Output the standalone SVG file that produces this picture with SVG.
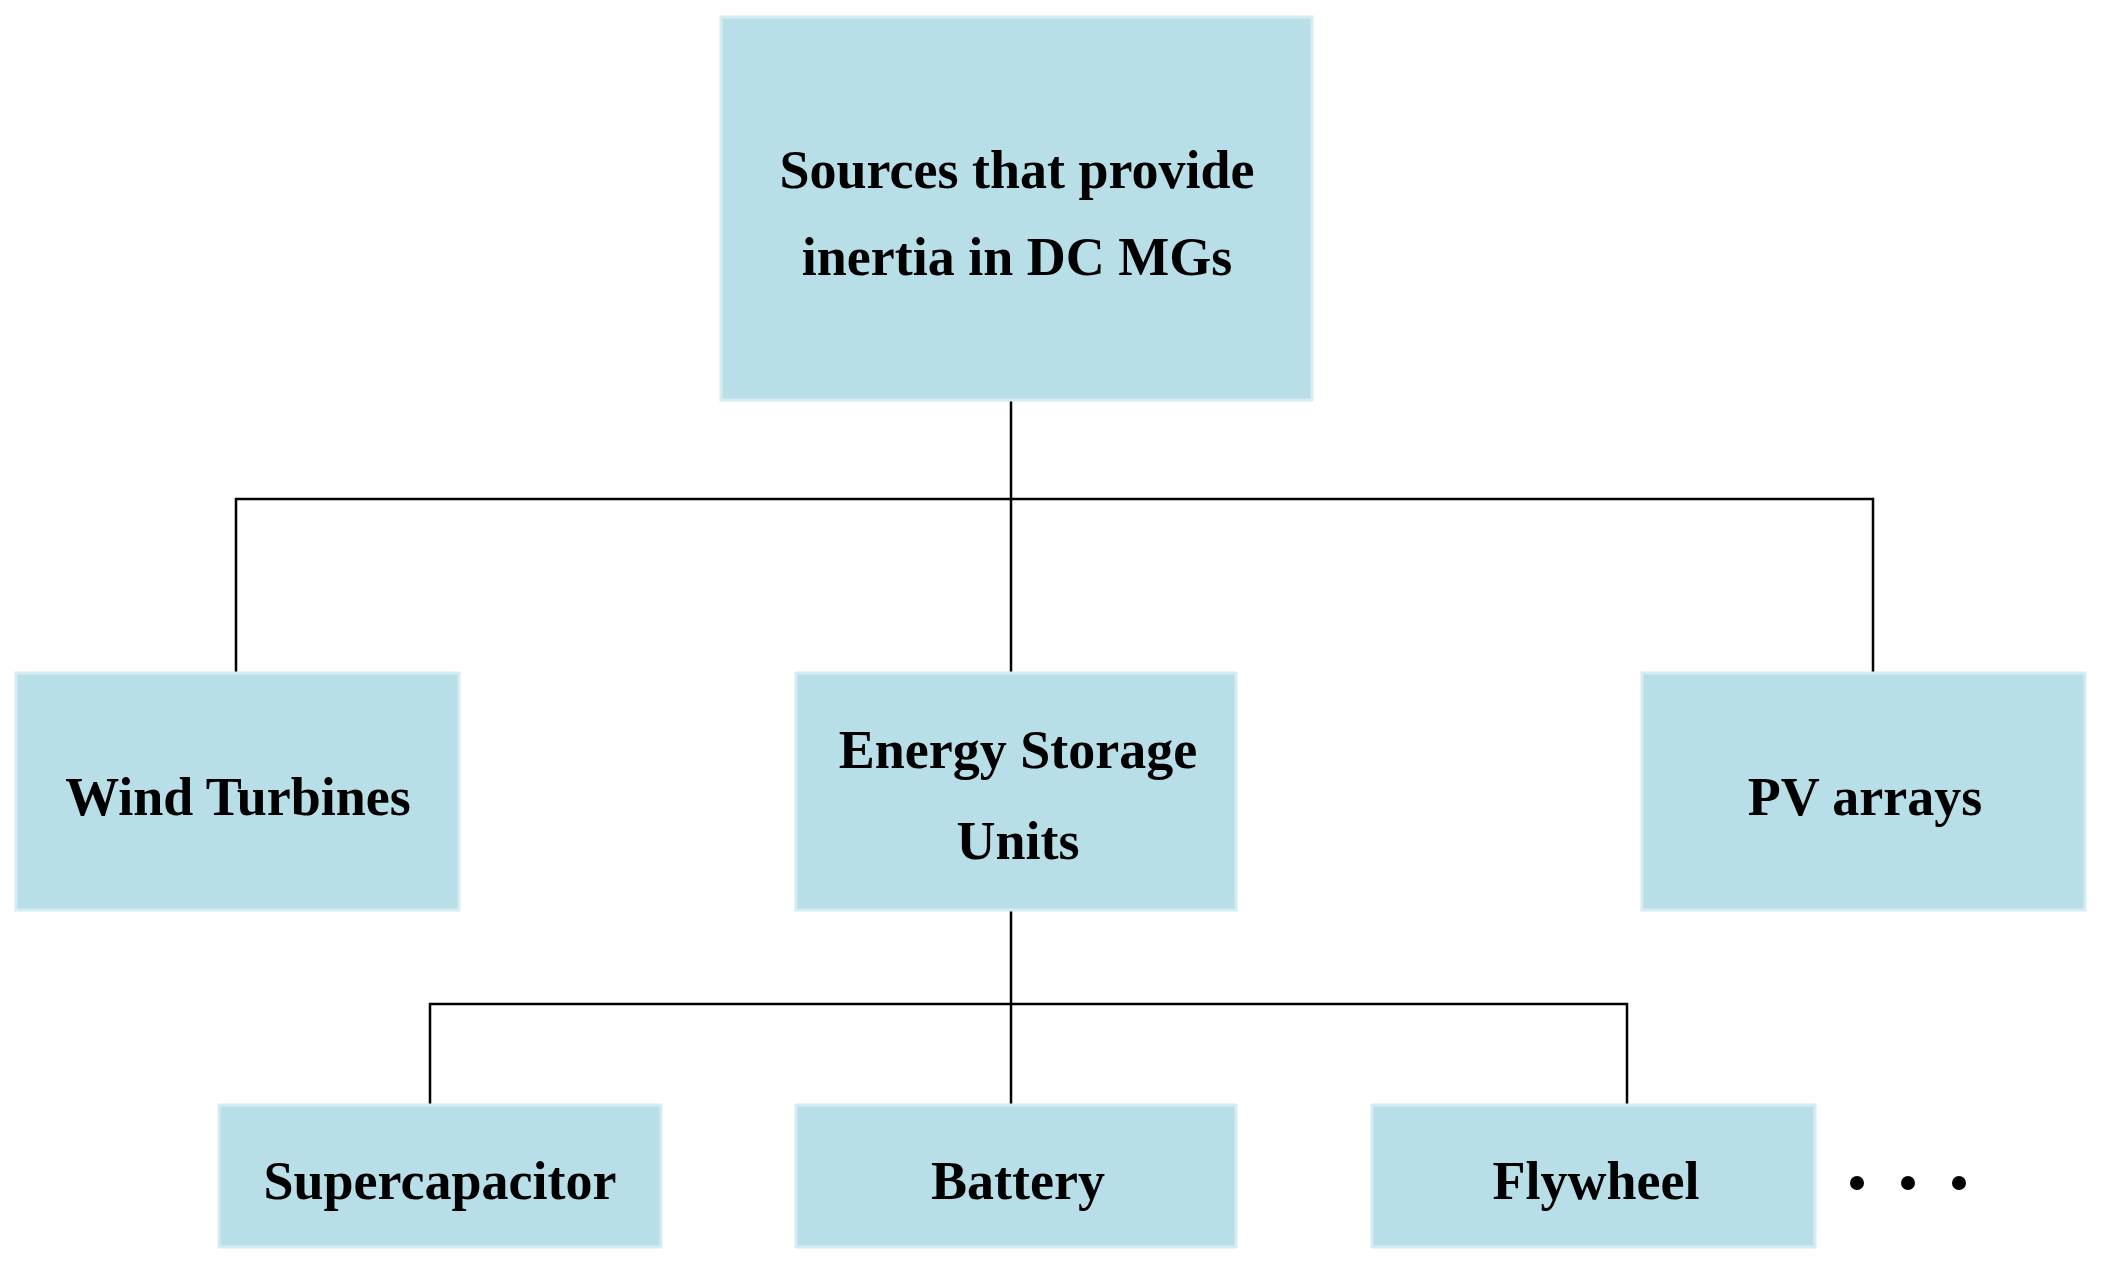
<svg xmlns="http://www.w3.org/2000/svg" width="2105" height="1269" viewBox="0 0 2105 1269">
<style>
.b{fill:#b8dee7;stroke:#d4ecf2;stroke-width:3}
.t{font-family:"Liberation Serif",serif;font-weight:bold;font-size:54px;fill:#000;text-anchor:middle}
.c{stroke:#000;stroke-width:2.5;fill:none}
</style>
<rect width="2105" height="1269" fill="#fff"/>
<g id="connectors">
<path class="c" d="M1011 400V673M236 673V499H1873V673M1011 910V1105M430 1105V1004H1627V1105"/>
</g>
<g id="root"><rect class="b" x="721" y="17" width="591" height="383"/><text class="t" x="1017" y="188">Sources that provide</text><text class="t" x="1017" y="275">inertia in DC MGs</text></g>
<g id="wind"><rect class="b" x="16" y="673" width="443" height="237"/><text class="t" x="238" y="815">Wind Turbines</text></g>
<g id="esu"><rect class="b" x="796" y="673" width="440" height="237"/><text class="t" x="1018" y="768">Energy Storage</text><text class="t" x="1018" y="859">Units</text></g>
<g id="pv"><rect class="b" x="1642" y="673" width="443" height="237"/><text class="t" x="1865" y="815">PV arrays</text></g>
<g id="super"><rect class="b" x="219" y="1105" width="442" height="142"/><text class="t" x="440" y="1199">Supercapacitor</text></g>
<g id="battery"><rect class="b" x="796" y="1105" width="440" height="142"/><text class="t" x="1018" y="1199">Battery</text></g>
<g id="flywheel"><rect class="b" x="1372" y="1105" width="443" height="142"/><text class="t" x="1596" y="1199">Flywheel</text></g>
<g id="dots"><circle cx="1857" cy="1183" r="7"/><circle cx="1908" cy="1183" r="7"/><circle cx="1959" cy="1183" r="7"/></g>
</svg>
